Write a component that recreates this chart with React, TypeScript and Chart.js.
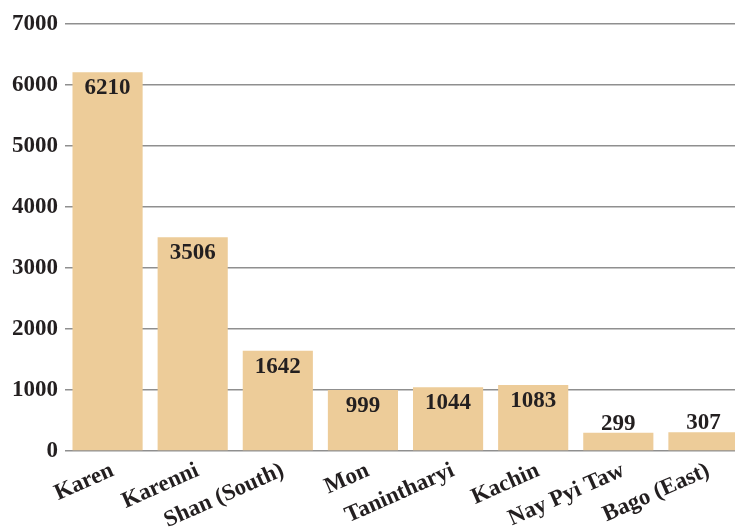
import React, { useEffect, useRef } from "react";
import { Chart, registerables } from "chart.js";

Chart.register(...registerables);

const categories = ["Karen", "Karenni", "Shan (South)", "Mon", "Tanintharyi", "Kachin", "Nay Pyi Taw", "Bago (East)"];
const values = [6210, 3506, 1642, 999, 1044, 1083, 299, 307];
const yMin = 0;
const yMax = 7000;
const yStep = 1000;

const FONT = '"Liberation Serif", "Times New Roman", serif';
const TEXT = "#231f20";
const BAR = "#edcc99";

const valueLabels = {
  id: "valueLabels",
  afterDatasetsDraw(chart: any) {
    const ctx = chart.ctx;
    const meta = chart.getDatasetMeta(0);
    ctx.save();
    ctx.font = `bold 23px ${FONT}`;
    ctx.fillStyle = TEXT;
    ctx.textAlign = "center";
    ctx.textBaseline = "alphabetic";
    meta.data.forEach((bar: any, i: number) => {
      const { x, y, base } = bar.getProps(["x", "y", "base"], true);
      const h = base - y;
      const ty = h > 40 ? y + 22 : y - 3;
      ctx.fillText(String(values[i]), x, ty);
    });
    ctx.restore();
  },
};

export default function App() {
  const ref = useRef<HTMLCanvasElement>(null);
  useEffect(() => {
    if (!ref.current) return;
    const chart = new Chart(ref.current, {
      type: "bar",
      data: {
        labels: categories,
        datasets: [
          {
            data: values,
            backgroundColor: BAR,
            borderWidth: 0,
            barPercentage: 0.824,
            categoryPercentage: 1,
          },
        ],
      },
      options: {
        responsive: false,
        animation: false,
        devicePixelRatio: 1,
        layout: { padding: { top: 24, right: 0, left: 0, bottom: 0 } },
        plugins: { legend: { display: false }, tooltip: { enabled: false } },
        scales: {
          x: {
            grid: { display: false },
            border: { display: false },
            ticks: {
              autoSkip: false,
              minRotation: 24,
              maxRotation: 24,
              padding: -2,
              labelOffset: 5,
              color: TEXT,
              font: { family: FONT, size: 23, weight: "bold" },
            },
            afterFit: (s: any) => {
              s.height = 77;
            },
          },
          y: {
            min: yMin,
            max: yMax,
            ticks: {
              stepSize: yStep,
              padding: 7,
              color: TEXT,
              font: { family: FONT, size: 23, weight: "bold" },
              callback: (v: any) => String(v),
            },
            grid: { color: "#8f8f8f", lineWidth: 1.5, drawTicks: false },
            border: { display: false },
            afterFit: (s: any) => {
              s.width = 65;
            },
          },
        },
      },
      plugins: [valueLabels],
    });
    return () => chart.destroy();
  }, []);
  return (
    <div style={{ position: "fixed", left: 0, top: 0, width: 735, height: 528, overflow: "hidden", background: "#fff" }}>
      <canvas ref={ref} width={746} height={528} style={{ display: "block" }} />
    </div>
  );
}
